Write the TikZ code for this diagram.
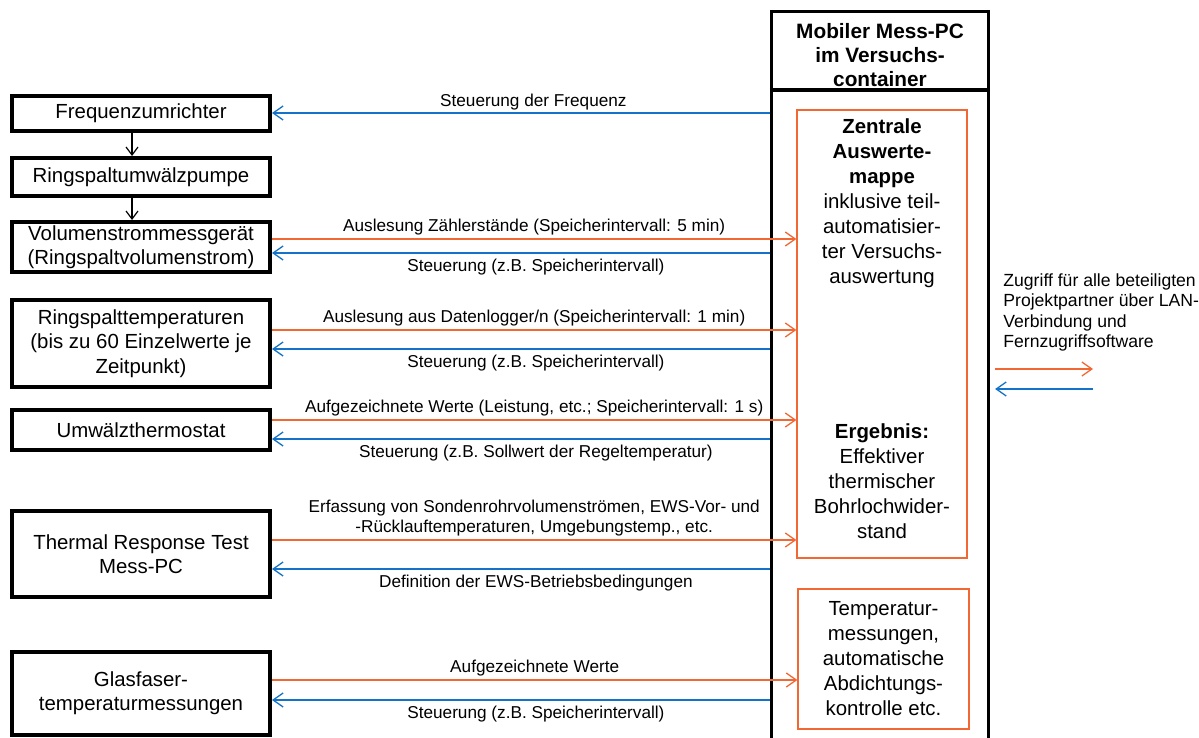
\documentclass[tikz,border=0pt]{standalone}
\usepackage{fontspec}
\setmainfont{Liberation Sans}
\usetikzlibrary{arrows.meta}
\definecolor{readcol}{RGB}{242,104,52}
\definecolor{ctrlcol}{RGB}{20,115,200}
\begin{document}
\begin{tikzpicture}[x=0.5pt,y=-0.5pt,
    dev/.style={draw,line width=2pt,minimum width=129pt,align=center,inner sep=1pt,
        font=\fontsize{10.2}{12.2}\selectfont},
    pcbox/.style={draw,line width=1.6pt,minimum width=108.5pt,minimum height=365pt,inner sep=0pt},
    resbox/.style={draw=readcol,line width=0.6pt,inner sep=0pt},
    restext/.style={align=center,inner sep=0pt,font=\fontsize{10.2}{12.5}\selectfont},
    lbl/.style={font=\fontsize{8.6}{10.2}\selectfont,inner sep=1pt,align=center},
    readarr/.style={draw=readcol,line width=0.65pt,-{Straight Barb[length=5pt,width=7pt]}},
    ctrlarr/.style={draw=ctrlcol,line width=0.65pt,-{Straight Barb[length=5pt,width=7pt]}},
    flow/.style={line width=0.6pt,-{Straight Barb[length=4pt,width=6pt]}}]
    \useasboundingbox (0,0) rectangle (1199,738);
    % Geraete links
    \node[dev,minimum height=17.5pt] (frq) at (141,113.5) {Frequenzumrichter};
    \node[dev,minimum height=19pt] (pump) at (141,177) {Ringspaltumwälzpumpe};
    \node[dev,minimum height=25pt] (vol) at (141,247) {Volumenstrommessgerät\\(Ringspaltvolumenstrom)};
    \node[dev,minimum height=43.5pt] (rtemp) at (141,343.5) {Ringspalttemperaturen\\(bis zu 60 Einzelwerte je\\Zeitpunkt)};
    \node[dev,minimum height=20pt] (thermo) at (141,430) {Umwälzthermostat};
    \node[dev,minimum height=43pt] (trt) at (141,554) {Thermal Response Test\\Mess-PC};
    \node[dev,minimum height=41.5pt] (gf) at (141,693) {Glasfaser-\\temperaturmessungen};
    \draw[flow] (frq.south -| 132,0) -- (pump.north -| 132,0);
    \draw[flow] (pump.south -| 132,0) -- (vol.north -| 132,0);
    % Mess-PC
    \node[pcbox] (pc) at (880,376.5) {};
    \node[restext,font=\fontsize{10.4}{12.2}\selectfont\bfseries] (hdr) at (880,55) {Mobiler Mess-PC\\im Versuchs-\\container};
    \draw[line width=1.6pt] (pc.west |- 0,90) -- (pc.east |- 0,90);
    \node[resbox,minimum width=85pt,minimum height=224pt] (am) at (882,334) {};
    \node[restext] (amtop) at (882,203.5) {\textbf{Zentrale}\\\textbf{Auswerte-}\\\textbf{mappe}\\inklusive teil-\\automatisier-\\ter Versuchs-\\auswertung};
    \node[restext] (amres) at (882,481.5) {\textbf{Ergebnis:}\\Effektiver\\thermischer\\Bohrlochwider-\\stand};
    \node[resbox,restext,minimum width=85.5pt,minimum height=70pt] (tm) at (883.5,659) {Temperatur-\\messungen,\\automatische\\Abdichtungs-\\kontrolle etc.};
    % Verbindungen
    \draw[ctrlarr] (pc.west |- 0,113) -- node[lbl,above,pos=0.475] (c1) {Steuerung der Frequenz} (frq.east |- 0,113);
    \draw[readarr] (vol.east |- 0,239) -- node[lbl,above=0.5pt] (r2) {Auslesung Zählerstände (Speicherintervall: 5 min)} (am.west |- 0,239);
    \draw[ctrlarr] (pc.west |- 0,253) -- node[lbl,below=1.5pt,pos=0.47] (c2) {Steuerung (z.B. Speicherintervall)} (vol.east |- 0,253);
    \draw[readarr] (rtemp.east |- 0,330) -- node[lbl,above=0.5pt] (r3) {Auslesung aus Datenlogger/n (Speicherintervall: 1 min)} (am.west |- 0,330);
    \draw[ctrlarr] (pc.west |- 0,349) -- node[lbl,below=1.5pt,pos=0.47] (c3) {Steuerung (z.B. Speicherintervall)} (rtemp.east |- 0,349);
    \draw[readarr] (thermo.east |- 0,420) -- node[lbl,above=0.5pt] (r4) {Aufgezeichnete Werte (Leistung, etc.; Speicherintervall: 1 s)} (am.west |- 0,420);
    \draw[ctrlarr] (pc.west |- 0,439) -- node[lbl,below=1.5pt,pos=0.47] (c4) {Steuerung (z.B. Sollwert der Regeltemperatur)} (thermo.east |- 0,439);
    \draw[readarr] (trt.east |- 0,540) -- node[lbl,above=0.5pt] (r5) {Erfassung von Sondenrohrvolumenströmen, EWS-Vor- und\\-Rücklauftemperaturen, Umgebungstemp., etc.} (am.west |- 0,540);
    \draw[ctrlarr] (pc.west |- 0,569) -- node[lbl,below=1.5pt,pos=0.47] (c5) {Definition der EWS-Betriebsbedingungen} (trt.east |- 0,569);
    \draw[readarr] (gf.east |- 0,680) -- node[lbl,above=0.5pt] (r6) {Aufgezeichnete Werte} (tm.west |- 0,680);
    \draw[ctrlarr] (pc.west |- 0,700) -- node[lbl,below=1.5pt,pos=0.47] (c6) {Steuerung (z.B. Speicherintervall)} (gf.east |- 0,700);
    % Fernzugriff
    \node[anchor=north west,inner sep=0pt,align=left,font=\fontsize{8.8}{10.3}\selectfont] (ext) at (1003,273) {Zugriff für alle beteiligten\\Projektpartner über LAN-\\Verbindung und\\Fernzugriffsoftware};
    \coordinate (pce) at ([xshift=2.5pt]pc.east);
    \coordinate (extout) at (1093,369);
    \coordinate (extin) at (1093,389);
    \draw[readarr] (pce |- extout) -- (extout);
    \draw[ctrlarr] (extin) -- (pce |- extin);
\end{tikzpicture}
\end{document}
